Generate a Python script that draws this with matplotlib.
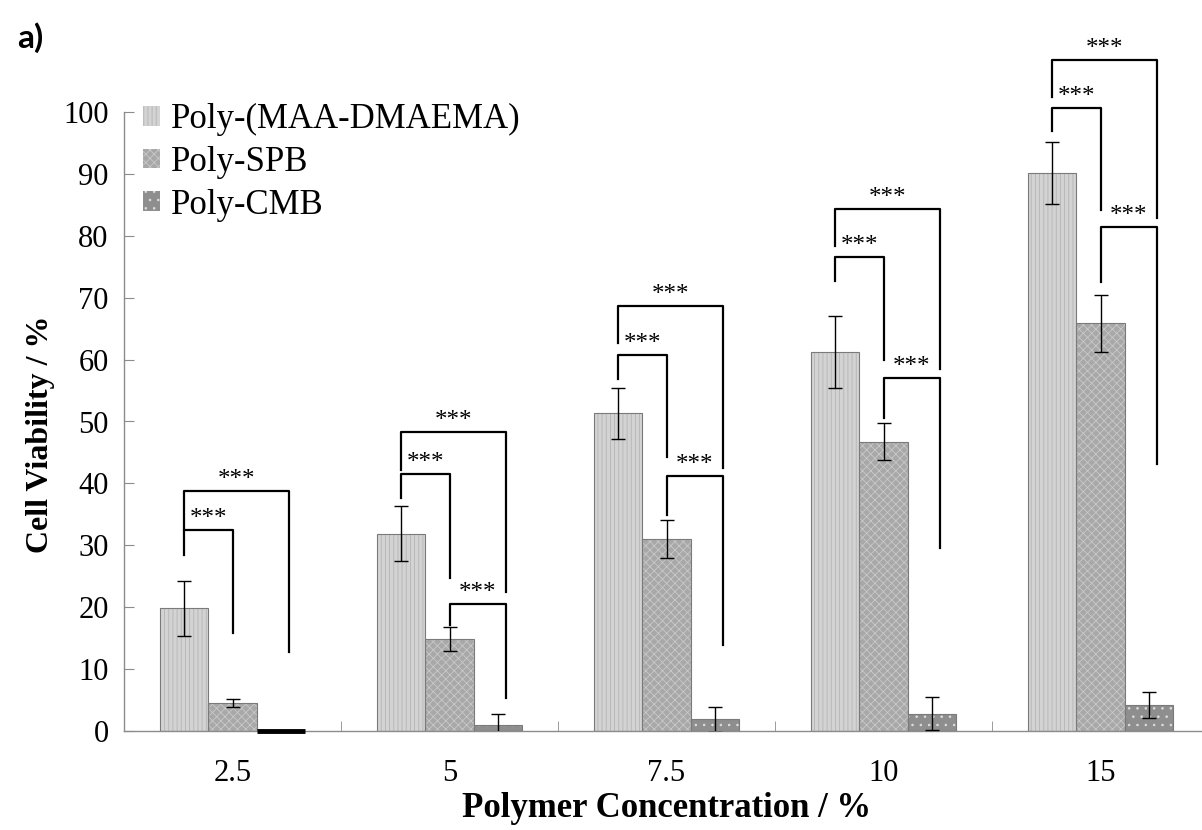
import numpy as np
import matplotlib
matplotlib.use('Agg')
from matplotlib import pyplot as plt

# data
concs = ['2.5', '5', '7.5', '10', '15']
names = ['Poly-(MAA-DMAEMA)', 'Poly-SPB', 'Poly-CMB']
maa = [19.8, 31.9, 51.3, 61.2, 90.1]
maa_err = [4.5, 4.4, 4.1, 5.8, 5.0]
spb = [4.6, 14.9, 31.0, 46.7, 65.9]
spb_err = [0.65, 1.9, 3.1, 3.0, 4.6]
cmb = [0.0, 0.9, 1.9, 2.8, 4.2]
cmb_err = [0.0, 1.8, 2.0, 2.7, 2.05]

# significance brackets per concentration: (bar a, bar b, top, left foot, right foot)
brackets = [
    [(0, 1, 32.4, 28.4, 15.8), (0, 2, 38.7, 32.4, 12.8)],
    [(0, 1, 41.5, 37.6, 24.7), (0, 2, 48.3, 42.2, 22.4), (1, 2, 20.5, 17.1, 5.3)],
    [(0, 1, 60.7, 56.9, 44.3), (0, 2, 68.7, 62.7, 42.5), (1, 2, 41.2, 34.9, 13.9)],
    [(0, 1, 76.6, 72.7, 60.0), (0, 2, 84.3, 78.3, 58.5), (1, 2, 57.1, 50.5, 29.6)],
    [(0, 1, 100.6, 96.9, 84.2), (0, 2, 108.4, 102.5, 82.9), (1, 2, 81.4, 72.5, 43.1)],
]

plt.rcParams['font.family'] = ['Liberation Serif', 'DejaVu Serif']
plt.rcParams['hatch.linewidth'] = 0.6

fig = plt.figure(figsize=(12.02, 8.30), dpi=100)
ax = fig.add_axes([124/1202, 99/830, 1085/1202, 619/830])

x = np.arange(len(concs))
w = 0.224
series = [(maa, maa_err), (spb, spb_err), (cmb, cmb_err)]
faces = ['#d3d3d3', '#a8a8a8', '#8e8e8e']
hatch_cols = ['#b4b4b4', '#c9c9c9', '#dedede']
hatches = ['||||', 'xxxx', '..']

handles = []
for k, (vals, errs) in enumerate(series):
    pos = x + (k - 1) * w
    b = ax.bar(pos, vals, w, color=faces[k], hatch=hatches[k], edgecolor=hatch_cols[k],
               linewidth=0, label=names[k], zorder=2)
    ax.bar(pos, vals, w, fill=False, edgecolor='#7a7a7a', linewidth=0.8, zorder=3)
    handles.append(b)
    vals = np.array(vals)
    errs = np.array(errs)
    m = errs > 0
    ax.errorbar(pos[m], vals[m], yerr=errs[m], fmt='none', ecolor='black',
                elinewidth=1, capsize=5, capthick=1, zorder=4)
    # zero-height bars are shown as a thick black line on the axis
    for p, v in zip(pos, vals):
        if v == 0:
            ax.hlines(0, p - w/2, p + w/2, color='black', lw=3.5, zorder=5, clip_on=False)

# significance brackets
for i, grp in enumerate(brackets):
    for a, b, top, lf, rf in grp:
        xa = x[i] + (a - 1) * w
        xb = x[i] + (b - 1) * w + (0.035 if b == 2 else 0)
        ax.plot([xa, xa, xb, xb], [lf, top, top, rf], color='black', lw=1.6,
                clip_on=False, zorder=6)
        ax.text((xa + xb) / 2, top + 0.8, '***', ha='center', va='baseline',
                fontsize=18, clip_on=False)

ax.set_xlim(-0.5, 4.5)
ax.set_ylim(0, 100)
ax.set_yticks(np.arange(0, 101, 10))
ax.set_xticks(x)
ax.set_xticklabels(concs)
ax.set_xticks(x[:-1] + 0.5, minor=True)
ax.tick_params(axis='x', which='major', length=0, pad=20, labelsize=22)
ax.tick_params(axis='x', which='minor', direction='in', length=7, color='#8c8c8c')
ax.tick_params(axis='y', direction='in', length=7, color='#8c8c8c', pad=11, labelsize=22)

for s in ['top', 'right']:
    ax.spines[s].set_visible(False)
for s in ['left', 'bottom']:
    ax.spines[s].set_color('#8c8c8c')
    ax.spines[s].set_linewidth(1)

ax.set_xlabel('Polymer Concentration / %', fontsize=25, fontweight='bold')
ax.xaxis.set_label_coords(0.5, -0.098)
ax.set_ylabel('Cell Viability / %', fontsize=23, fontweight='bold')
ax.yaxis.set_label_coords(-0.064, 0.48)

ax.legend(handles=handles, loc='upper left', bbox_to_anchor=(0.0175, 1.0145), frameon=False,
          fontsize=25, handlelength=0.5, handleheight=0.5, handletextpad=0.3,
          labelspacing=0.28, borderpad=0, borderaxespad=0)

fig.text(17/1202, 1 - 48/830, 'a)', fontsize=24, fontweight='bold', family='Lato',
         ha='left', va='baseline')

fig.savefig('out.png', dpi=100)
